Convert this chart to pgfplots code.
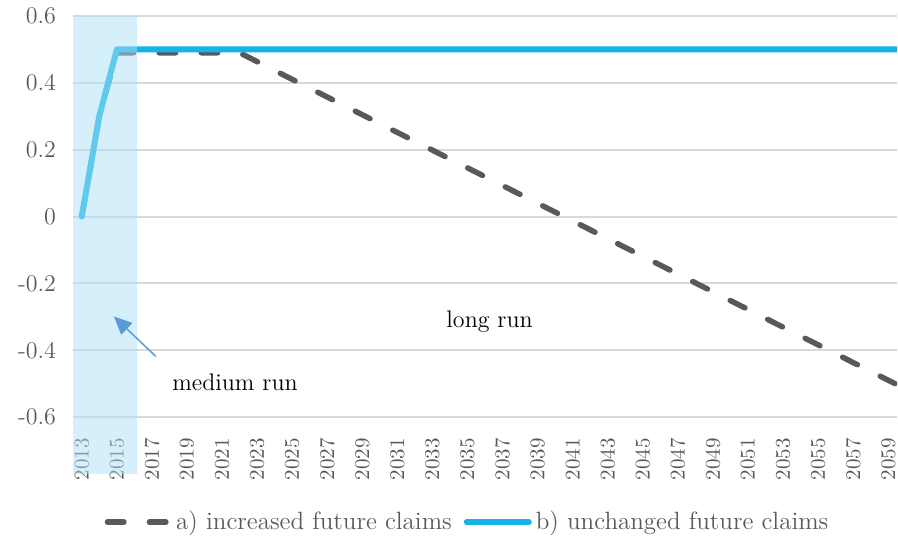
\documentclass[border=0pt]{standalone}
\usepackage{fontspec}
\setmainfont{Latin Modern Roman}
\usepackage{pgfplots}
\pgfplotsset{compat=1.18}
\usetikzlibrary{arrows.meta}
\definecolor{dgray}{RGB}{89,89,89}
\definecolor{cblue}{RGB}{20,180,232}
\definecolor{gridc}{RGB}{217,217,217}
\definecolor{shadec}{RGB}{172,225,245}
\definecolor{arrowc}{RGB}{91,155,213}
\begin{document}
\begin{tikzpicture}
\begin{axis}[
  scale only axis, width=412pt, height=200.5pt,
  xmin=2012.5, xmax=2059.5, ymin=-0.6, ymax=0.6,
  axis line style={draw=none},
  major tick length=0pt,
  ymajorgrids, grid style={gridc, line width=1pt},
  ytick={-0.6,-0.4,-0.2,0,0.2,0.4,0.6},
  yticklabels={-0.6,-0.4,-0.2,0,0.2,0.4,0.6},
  xtick={2013,2015,...,2059},
  xticklabel style={rotate=90, anchor=east, font=\fontsize{10.5}{12}\selectfont, text=dgray},
  xticklabel shift=7pt,
  yticklabel style={font=\fontsize{12}{14}\selectfont, text=dgray, xshift=-5pt},
  /pgf/number format/1000 sep={},
  /pgf/number format/assume math mode=true,
  legend style={at={(0.48,-0.262)}, anchor=center, draw=none, fill=none,
    legend columns=2, font=\fontsize{12.5}{14}\selectfont, text=dgray,
    /tikz/every even column/.append style={column sep=4pt}},
  legend cell align=left,
  legend image code/.code={\draw[#1] (0pt,0pt) -- (31pt,0pt);},
]
\addplot[dgray, line width=2.75pt, line cap=round, dash pattern=on 8.25pt off 12.75pt]
  coordinates {(2013,0) (2014,0.3) (2015,0.49) (2022,0.49) (2059,-0.49) (2060,-0.516)};
\addlegendentry{a) increased future claims}
\addplot[cblue, line width=3pt, line cap=round, line join=round]
  coordinates {(2013,0) (2014,0.3) (2015,0.5) (2060,0.5)};
\addlegendentry{b) unchanged future claims}
\node[font=\fontsize{12}{14}\selectfont] at (axis cs:2036.26,-0.314) {long run};
\node[font=\fontsize{12}{14}\selectfont] at (axis cs:2021.74,-0.497) {medium run};
\coordinate (a1) at (axis cs:2017.23,-0.419);
\coordinate (a2) at (axis cs:2014.83,-0.299);
\coordinate (s1) at (axis cs:2012.5,0.6);
\coordinate (s2) at (axis cs:2016.15,-0.77);
\coordinate (bl) at (rel axis cs:0,0);
\end{axis}
\fill[shadec, opacity=0.5] (s1) rectangle (s2);
\draw[arrowc, line width=0.75pt, -{Triangle[length=9pt,width=8pt]}] (a1) -- (a2);
\pgfresetboundingbox
\path ([shift={(-36.5pt,-60.5pt)}]bl) rectangle ([shift={(412.5pt,208.5pt)}]bl);
\end{tikzpicture}
\end{document}
